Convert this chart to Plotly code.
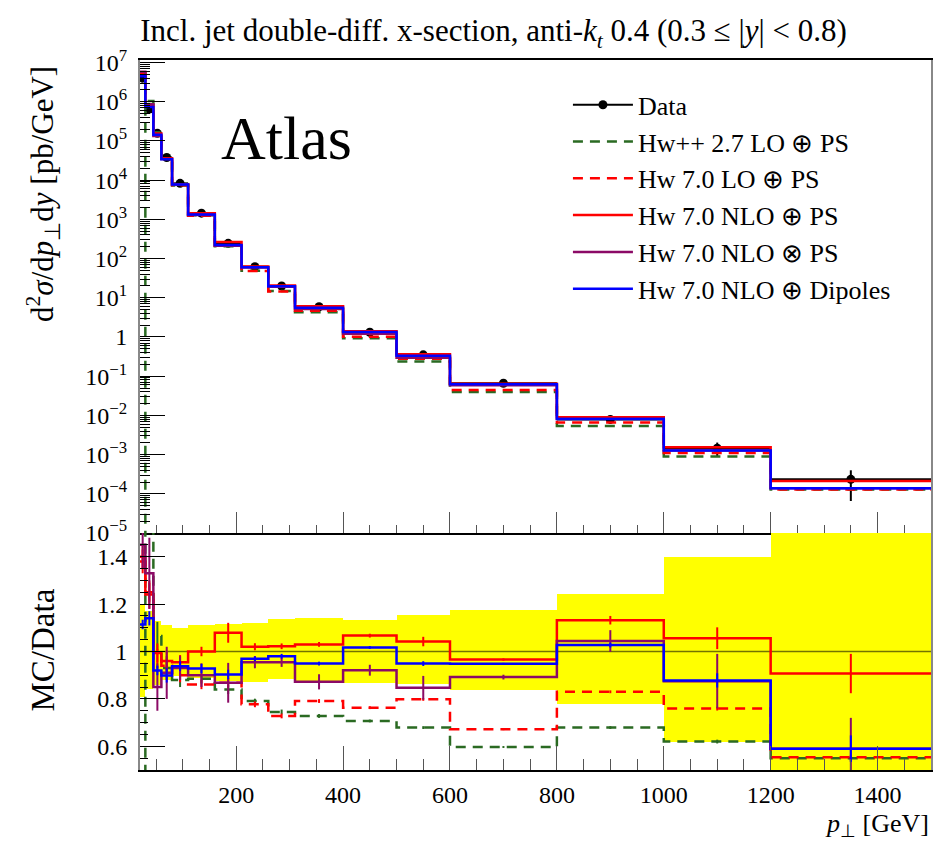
import plotly.graph_objects as go

# ---------------- data ----------------
edges = [20, 30, 45, 60, 80, 110, 160, 210, 260, 310, 400, 500, 600, 800, 1000, 1200, 1500]

data_vals = [4.0e6, 6.5e5, 1.57e5, 3.8e4, 8.3e3, 1.44e3, 245, 62, 20, 5.9, 1.32, 0.35,
             0.066, 7.9e-3, 1.45e-3, 2.34e-4]

band_hi = [1.20, 1.17, 1.13, 1.112, 1.10, 1.11, 1.118, 1.122, 1.136, 1.14, 1.135, 1.152,
           1.174, 1.244, 1.397, 1.70]
band_lo = [0.806, 0.84, 0.86, 0.88, 0.896, 0.89, 0.875, 0.872, 0.882, 0.875, 0.866, 0.865,
           0.836, 0.777, 0.618, 0.28]

ratio_green = [0.0, 1.60, 1.065, 0.93, 0.88, 0.885, 0.84, 0.791, 0.745, 0.728, 0.707, 0.679,
               0.597, 0.679, 0.620, 0.55]
ratio_red_lo = [1.38, 1.25, 0.97, 0.94, 0.90, 0.861, 0.868, 0.777, 0.728, 0.791, 0.763, 0.798,
                0.672, 0.830, 0.759, 0.554]
ratio_red_nlo = [1.40, 1.24, 0.994, 0.96, 0.955, 1.0, 1.079, 1.02, 1.022, 1.03, 1.067, 1.042,
                 0.966, 1.132, 1.056, 0.907]
ratio_purple = [1.45, 1.33, 0.85, 0.91, 0.93, 0.90, 0.868, 0.955, 0.955, 0.872, 0.921, 0.847,
                0.892, 1.044, 0.875, 0.59]
ratio_blue = [1.114, 1.14, 0.92, 0.899, 0.938, 0.928, 0.903, 0.969, 0.98, 0.949, 1.017, 0.949,
              0.948, 1.027, 0.878, 0.59]

err_green = [0.0, 0.05, 0.06, 0.05, 0.03, 0.02, 0.02, 0.01, 0.01, 0.008, 0.006, 0.006,
             0.004, 0.006, 0.008, 0.01]
err_red_lo = [0.05, 0.04, 0.04, 0.03, 0.03, 0.02, 0.02, 0.012, 0.01, 0.008, 0.006, 0.006,
              0.004, 0.006, 0.008, 0.01]
err_red_nlo = [0.05, 0.06, 0.04, 0.04, 0.03, 0.02, 0.042, 0.015, 0.012, 0.01, 0.008, 0.02,
               0.005, 0.018, 0.046, 0.083]
err_purple = [0.10, 0.15, 0.10, 0.11, 0.05, 0.05, 0.084, 0.026, 0.02, 0.032, 0.023, 0.05,
              0.01, 0.046, 0.115, 0.13]
err_blue = [0.02, 0.03, 0.02, 0.03, 0.02, 0.02, 0.02, 0.01, 0.01, 0.008, 0.006, 0.01,
            0.004, 0.01, 0.03, 0.056]

series = [
    # name, ratios, errors, color, dash
    ("Hw++ 2.7 LO ⊕ PS", ratio_green, err_green, "#2a6a22", "10px,7px"),
    ("Hw 7.0 LO ⊕ PS", ratio_red_lo, err_red_lo, "#ff0000", "10px,7px"),
    ("Hw 7.0 NLO ⊕ PS", ratio_red_nlo, err_red_nlo, "#ff0000", "solid"),
    ("Hw 7.0 NLO ⊗ PS", ratio_purple, err_purple, "#8b0a66", "solid"),
    ("Hw 7.0 NLO ⊕ Dipoles", ratio_blue, err_blue, "#0000ff", "solid"),
]

y_tickvals = [10.0 ** e for e in range(-5, 8)]
y_ticktext = ["10<sup>−5</sup>", "10<sup>−4</sup>", "10<sup>−3</sup>", "10<sup>−2</sup>",
              "10<sup>−1</sup>", "1", "10<sup>1</sup>", "10<sup>2</sup>", "10<sup>3</sup>",
              "10<sup>4</sup>", "10<sup>5</sup>", "10<sup>6</sup>", "10<sup>7</sup>"]
r_tickvals = [0.6, 0.8, 1.0, 1.2, 1.4]
r_ticktext = ["0.6", "0.8", "1", "1.2", "1.4"]
x_tickvals = [200, 400, 600, 800, 1000, 1200, 1400]
x_ticktext = ["200", "400", "600", "800", "1000", "1200", "1400"]

# ---------------- derived ----------------
centers = [(a + b) / 2 for a, b in zip(edges[:-1], edges[1:])]
halfw = [(b - a) / 2 for a, b in zip(edges[:-1], edges[1:])]
widths = [b - a for a, b in zip(edges[:-1], edges[1:])]
data_up = [d * (h - 1) for d, h in zip(data_vals, band_hi)]
data_dn = [d * (1 - l) for d, l in zip(data_vals, band_lo)]
ones = [1.0] * len(data_vals)

FONT = "Liberation Serif, Times New Roman, serif"

fig = go.Figure()

# ---- top panel ----
fig.add_trace(go.Scatter(
    x=centers, y=data_vals, mode="markers", showlegend=False,
    marker=dict(color="black", size=9),
    error_y=dict(type="data", symmetric=False, array=data_up, arrayminus=data_dn,
                 color="black", thickness=2, width=0),
    error_x=dict(type="data", array=halfw, color="black", thickness=2, width=0),
    xaxis="x", yaxis="y"))
fig.add_trace(go.Scatter(
    x=[None], y=[None], mode="lines+markers", name="Data", legendrank=1,
    line=dict(color="black", width=2), marker=dict(color="black", size=9),
    xaxis="x", yaxis="y"))

for i, (name, rat, err, col, dash) in enumerate(series):
    vals = [max(d * r, 1e-12) for d, r in zip(data_vals, rat)]
    fig.add_trace(go.Scatter(
        x=edges, y=vals + [vals[-1]], mode="lines", line_shape="hv", name=name,
        legendrank=2 + i, line=dict(color=col, width=2.5, dash=dash),
        xaxis="x", yaxis="y"))

# ---- ratio panel ----
fig.add_trace(go.Bar(
    x=centers, y=[h - l for h, l in zip(band_hi, band_lo)], base=band_lo, width=widths,
    marker=dict(color="#ffff00", line=dict(width=0)), showlegend=False,
    xaxis="x2", yaxis="y2"))
fig.add_trace(go.Scatter(
    x=edges, y=ones + [ones[-1]], mode="lines", line_shape="hv", showlegend=False,
    line=dict(color="rgba(0,0,0,0.55)", width=1.5), xaxis="x2", yaxis="y2"))

for name, rat, err, col, dash in series:
    fig.add_trace(go.Scatter(
        x=edges, y=rat + [rat[-1]], mode="lines", line_shape="hv", showlegend=False,
        line=dict(color=col, width=2.5, dash=dash), xaxis="x2", yaxis="y2"))
    fig.add_trace(go.Scatter(
        x=centers, y=rat, mode="markers", showlegend=False,
        marker=dict(color=col, size=1),
        error_y=dict(type="data", array=err, color=col, thickness=2, width=0),
        xaxis="x2", yaxis="y2"))

split = 237 / 710

minor_log = [k * 10.0 ** e for e in range(-5, 7) for k in range(2, 10)]

TICKFONT = dict(family=FONT, size=24)

fig.update_layout(
    width=941, height=844,
    margin=dict(l=140, r=10, t=60, b=74, autoexpand=False),
    paper_bgcolor="white", plot_bgcolor="white",
    font=dict(family=FONT, color="black", size=20),
    bargap=0,
    title=dict(
        text="Incl. jet double-diff. x-section, anti-<i>k<sub>t</sub></i> 0.4 (0.3 ≤ |<i>y</i>| &lt; 0.8)",
        x=0.149, xanchor="left", y=0.964, yanchor="middle",
        font=dict(family=FONT, size=31)),
    xaxis=dict(domain=[0, 1], range=[20, 1500], anchor="y", automargin=False,
               showticklabels=False, ticks="inside", ticklen=21, tickwidth=1.3,
               tickcolor="#555", tickvals=x_tickvals,
               minor=dict(ticks="inside", ticklen=8, dtick=50, tick0=0, tickcolor="#555"),
               showline=True, linecolor="black", linewidth=1.5, mirror=True,
               showgrid=False, zeroline=False),
    yaxis=dict(domain=[split, 1], type="log", range=[-5, 7.066], anchor="x", automargin=False,
               tickvals=y_tickvals, ticktext=y_ticktext, ticks="inside", ticklen=25,
               tickwidth=1.3, tickcolor="black", ticklabelstandoff=6, tickfont=TICKFONT,
               minor=dict(ticks="inside", ticklen=10, tickvals=minor_log, tickcolor="black"),
               showline=True, linecolor="#888", linewidth=2, mirror=True,
               showgrid=False, zeroline=False),
    xaxis2=dict(domain=[0, 1], range=[20, 1500], anchor="y2", automargin=False,
                tickvals=x_tickvals, ticktext=x_ticktext, ticks="inside", ticklen=24,
                tickwidth=1.3, tickcolor="#555", ticklabelstandoff=2, tickfont=TICKFONT,
                minor=dict(ticks="inside", ticklen=11, dtick=50, tick0=0, tickcolor="#555"),
                showline=True, linecolor="black", linewidth=1.5, mirror=False,
                showgrid=False, zeroline=False),
    yaxis2=dict(domain=[0, split], range=[0.5, 1.5], anchor="x2", automargin=False,
                tickvals=r_tickvals, ticktext=r_ticktext, ticks="inside", ticklen=25,
                tickwidth=1.3, tickcolor="black", ticklabelstandoff=6, tickfont=TICKFONT,
                minor=dict(ticks="inside", ticklen=8, dtick=0.05, tick0=0, tickcolor="black"),
                showline=True, linecolor="#888", linewidth=2, mirror=True,
                showgrid=False, zeroline=False),
    legend=dict(x=0.541, y=0.97, xanchor="left", yanchor="top",
                font=dict(family=FONT, size=26), bgcolor="rgba(0,0,0,0)",
                itemwidth=60, traceorder="normal", tracegroupgap=0),
    annotations=[
        dict(text="Atlas", x=0.185, y=0.89, xref="paper", yref="paper",
             xanchor="center", yanchor="middle", showarrow=False,
             font=dict(family=FONT, size=62)),
        dict(text="d<sup>2</sup><i>σ</i>/d<i>p</i><sub>⊥</sub>d<i>y</i> [pb/GeV]",
             x=-0.122, y=0.812, xref="paper", yref="paper", textangle=-90,
             xanchor="center", yanchor="middle", showarrow=False,
             font=dict(family=FONT, size=31)),
        dict(text="MC/Data", x=-0.122, y=0.169, xref="paper", yref="paper", textangle=-90,
             xanchor="center", yanchor="middle", showarrow=False,
             font=dict(family=FONT, size=33)),
        dict(text="<i>p</i><sub>⊥</sub> [GeV]", x=1.0, y=-0.078, xref="paper", yref="paper",
             xanchor="right", yanchor="middle", showarrow=False,
             font=dict(family=FONT, size=26)),
    ],
)

fig.write_html("out.html", post_script="document.body.style.margin='0';",
               config={"displayModeBar": False})
